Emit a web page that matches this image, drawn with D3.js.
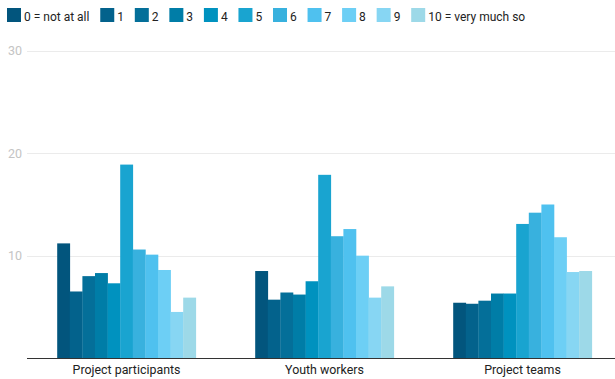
<!DOCTYPE html>
<html>
<head>
<meta charset="utf-8">
<script src="https://cdn.jsdelivr.net/npm/d3@7"></script>
<style>
  html, body { margin: 0; padding: 0; background: #fff; }
  svg { display: block; font-family: Roboto, "Noto Sans", sans-serif; }
</style>
</head>
<body>
<svg id="chart" width="615" height="379"></svg>
<script>
const groups = ["Project participants", "Youth workers", "Project teams"];
const seriesNames = ["0 = not at all", "1", "2", "3", "4", "5", "6", "7", "8", "9", "10 = very much so"];
const participants = [11.2, 6.5, 8.0, 8.3, 7.3, 18.9, 10.6, 10.1, 8.6, 4.5, 5.9];
const youthWorkers = [8.5, 5.7, 6.4, 6.2, 7.5, 17.9, 11.9, 12.6, 10.0, 5.9, 7.0];
const projectTeams = [5.4, 5.3, 5.6, 6.3, 6.3, 13.1, 14.2, 15.0, 11.8, 8.4, 8.5];
const yTicks = [10, 20, 30];
const colors = ["#02557d", "#03628c", "#046f99", "#007da7", "#0092bf", "#19a4d0",
                "#38b1de", "#4fc1ef", "#6dcff5", "#87d6f3", "#9dd9e8"];

const values = [participants, youthWorkers, projectTeams];
const svg = d3.select("#chart");

const y = d3.scaleLinear().domain([0, 30]).range([358, 51]);
const x0 = d3.scaleBand().domain(groups).range([27.5, 621.5]).paddingInner(0.3).paddingOuter(0.15);
const x1 = d3.scaleBand().domain(d3.range(seriesNames.length)).range([0, x0.bandwidth()]).padding(0);

// gridlines
svg.append("g").selectAll("line").data(yTicks).join("line")
  .attr("x1", 27).attr("x2", 615)
  .attr("y1", d => Math.round(y(d)) + 0.5).attr("y2", d => Math.round(y(d)) + 0.5)
  .attr("stroke", "#ebebeb").attr("stroke-width", 1);

// y tick labels
svg.append("g").selectAll("text").data(yTicks).join("text")
  .attr("x", 22).attr("y", d => y(d)).attr("dy", "0.35em")
  .attr("text-anchor", "end").attr("font-size", 12.5).attr("fill", "#c4c4c4")
  .text(d => d);

// bars
const g = svg.append("g").selectAll("g").data(groups).join("g")
  .attr("transform", d => `translate(${x0(d)},0)`);
g.selectAll("rect").data((d, i) => values[i].map((v, j) => ({ v, j }))).join("rect")
  .attr("x", d => x1(d.j)).attr("width", x1.bandwidth() + 0.3)
  .attr("y", d => y(d.v)).attr("height", d => y(0) - y(d.v))
  .attr("fill", d => colors[d.j]);

// baseline
svg.append("line").attr("x1", 27).attr("x2", 615).attr("y1", 358.5).attr("y2", 358.5)
  .attr("stroke", "#333").attr("stroke-width", 1.2);

// x labels
svg.append("g").selectAll("text").data(groups).join("text")
  .attr("x", d => x0(d) + x0.bandwidth() / 2).attr("y", 374)
  .attr("text-anchor", "middle").attr("font-size", 12.4).attr("fill", "#222")
  .text(d => d);

// legend
const leg = svg.append("g");
let lx = 7;
seriesNames.forEach((name, i) => {
  leg.append("rect").attr("x", lx).attr("y", 8).attr("width", 14).attr("height", 14).attr("fill", colors[i]);
  const t = leg.append("text").attr("x", lx + 17).attr("y", 21)
    .attr("font-size", 12).attr("fill", "#222").text(name);
  lx += 17 + t.node().getComputedTextLength() + 10.8;
});
</script>
</body>
</html>
